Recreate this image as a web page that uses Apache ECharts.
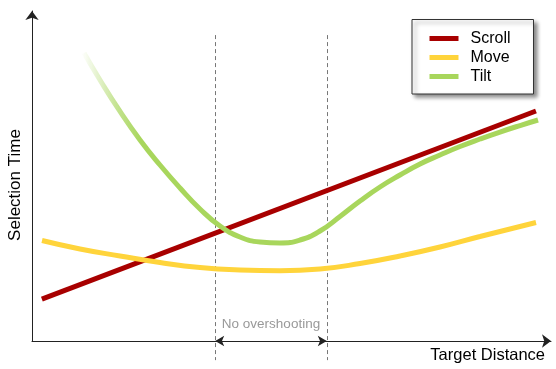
<!DOCTYPE html>
<html>
<head>
<meta charset="utf-8">
<script src="https://cdn.jsdelivr.net/npm/echarts@6/dist/echarts.min.js"></script>
<style>html,body{margin:0;padding:0;background:#fff;}#c{width:556px;height:369px;}</style>
</head>
<body>
<div id="c"></div>
<script>
// Data (arbitrary units: x = target distance 0-100, y = selection time 0-100)
const seriesNames = ['Scroll', 'Move', 'Tilt'];
const scrollX = [1.9, 97.1];
const scrollY = [12.7, 69.7];
const moveX = [1.93, 9.25, 16.96, 24.66, 32.37, 40.08, 47.78, 55.49, 63.20, 70.91, 78.61, 86.32, 97.11];
const moveY = [30.45, 27.88, 25.76, 23.79, 22.27, 21.52, 21.30, 21.82, 23.48, 25.76, 28.48, 31.67, 35.91];
const tiltX = [10.02, 13.10, 16.96, 20.81, 24.66, 28.52, 32.37, 36.22, 40.08, 43.93, 47.78, 51.64, 55.49, 59.34, 63.20, 67.05, 70.91, 74.76, 78.61, 82.47, 86.32, 90.17, 94.03, 97.50];
const tiltY = [87.27, 79.09, 69.55, 60.91, 53.33, 46.36, 40.00, 34.85, 31.52, 30.00, 29.70, 30.61, 33.33, 37.73, 42.42, 46.67, 50.30, 53.64, 56.36, 58.94, 61.21, 63.33, 65.30, 66.97];
const overshootBounds = [35.3, 56.8];
const regionLabel = 'No overshooting';
const xAxisName = 'Target Distance';
const yAxisName = 'Selection Time';

const zip = (xs, ys) => xs.map((x, i) => [x, ys[i]]);
const axisColor = '#222';
const colors = ['#a80000', '#ffd43b', '#a8d65c'];

const chart = echarts.init(document.getElementById('c'), null, {renderer: 'canvas'});

const axisCommon = {
  type: 'value', min: 0, max: 100,
  axisLine: {show: true, lineStyle: {color: axisColor, width: 1}, symbol: ['none', 'arrow'], symbolSize: [10, 9]},
  axisTick: {show: false}, axisLabel: {show: false}, splitLine: {show: false}
};

chart.setOption({
  animation: false,
  color: colors,
  grid: {left: 32, right: 5, top: 11, bottom: 28},
  xAxis: axisCommon,
  yAxis: axisCommon,
  legend: {
    data: seriesNames,
    orient: 'vertical',
    left: 412, top: 19.5,
    icon: 'rect', itemWidth: 29, itemHeight: 5, itemGap: 3,
    padding: [11, 23, 9.5, 17.5],
    backgroundColor: '#fff', borderColor: '#333', borderWidth: 1,
    shadowColor: 'rgba(0,0,0,0.45)', shadowBlur: 4, shadowOffsetX: 3, shadowOffsetY: 3,
    textStyle: {fontFamily: 'Liberation Sans, Arial', fontSize: 16, color: '#000', padding: [0, 0, 0, 7]}
  },
  series: [
    {
      name: seriesNames[0], type: 'line', data: zip(scrollX, scrollY), showSymbol: false,
      lineStyle: {width: 5, color: colors[0]}, itemStyle: {color: colors[0]},
      markLine: {
        silent: true, symbol: ['arrow', 'arrow'], symbolSize: [8, 9],
        label: {show: false},
        lineStyle: {color: axisColor, width: 1, type: 'solid'},
        data: [[{coord: [overshootBounds[0], 0]}, {coord: [overshootBounds[1], 0]}]]
      }
    },
    {
      name: seriesNames[1], type: 'line', data: zip(moveX, moveY), smooth: 0.5, showSymbol: false,
      lineStyle: {width: 5, color: colors[1]}, itemStyle: {color: colors[1]}
    },
    {
      name: seriesNames[2], type: 'line', data: zip(tiltX, tiltY), smooth: 0.5, showSymbol: false,
      itemStyle: {color: colors[2]},
      lineStyle: {
        width: 5,
        color: new echarts.graphic.LinearGradient(0, 0, 1, 0, [
          {offset: 0, color: 'rgba(168,214,92,0)'},
          {offset: 0.04, color: 'rgba(168,214,92,0.35)'},
          {offset: 0.08, color: 'rgba(168,214,92,0.7)'},
          {offset: 0.13, color: 'rgba(168,214,92,1)'},
          {offset: 1, color: 'rgba(168,214,92,1)'}
        ])
      }
    }
  ]
});

// Guides and texts placed through the axes' scales
const dashTop = 92.7, dashBottom = -5.8;
const p = (x, y) => chart.convertToPixel({gridIndex: 0}, [x, y]);
const graphics = overshootBounds.map(b => {
  const a = p(b, dashTop), c = p(b, dashBottom);
  const x = Math.round(a[0]) + 0.5;
  return {type: 'line', silent: true, z: 1,
    shape: {x1: x, y1: a[1], x2: x, y2: c[1]},
    style: {stroke: '#777', lineWidth: 1, lineDash: [4, 3]}};
});
const mid = p((overshootBounds[0] + overshootBounds[1]) / 2, 5);
graphics.push({type: 'text', silent: true, x: mid[0], y: mid[1],
  style: {text: regionLabel, fill: '#999', font: '13.5px "Liberation Sans", Arial', align: 'center', verticalAlign: 'middle'}});
const xn = p(100, -4.5);
graphics.push({type: 'text', silent: true, x: xn[0] - 6, y: xn[1],
  style: {text: xAxisName, fill: '#000', font: '16.5px "Liberation Sans", Arial', align: 'right', verticalAlign: 'middle'}});
graphics.push({type: 'text', silent: true, x: 15, y: 185, rotation: Math.PI / 2,
  style: {text: yAxisName, fill: '#000', font: '17px "Liberation Sans", Arial', align: 'center', verticalAlign: 'middle'}});
chart.setOption({graphic: graphics});
</script>
</body>
</html>
